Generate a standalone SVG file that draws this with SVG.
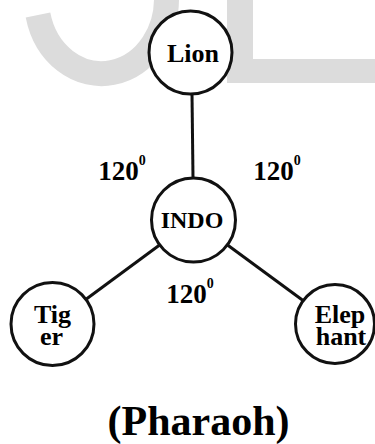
<svg xmlns="http://www.w3.org/2000/svg" width="375" height="444" viewBox="0 0 375 444">
<style>
.wm{fill:none;stroke:#dcdcdc;stroke-width:25}
.node circle{fill:#fff;stroke:#111;stroke-width:3}
.lbl{font-family:"Liberation Serif","Times New Roman",serif;font-weight:bold;fill:#000;text-anchor:middle}
.nt{font-size:26px}
.ang{font-size:27px}
.sup{font-size:14px}
.edge{stroke:#111;stroke-width:3}
</style>
<rect width="375" height="444" fill="#fff"/>
<g id="watermark">
<path class="wm" d="M38 15 A65 75 0 0 0 166 -10"/>
<path fill="#dcdcdc" d="M227 0 H253 V59 H375 V83 H227 Z"/>
</g>
<g id="connectors">
<line class="edge" x1="192" y1="94" x2="193" y2="178"/>
<line class="edge" x1="193.5" y1="220" x2="52.5" y2="324"/>
<line class="edge" x1="193.5" y1="220" x2="335" y2="324"/>
</g>
<g id="lion" class="node">
<circle cx="190.5" cy="52.5" r="41.5"/>
<text class="lbl nt" x="193" y="62">Lion</text>
</g>
<g id="indo" class="node">
<circle cx="193.5" cy="220" r="42"/>
<text class="lbl" style="font-size:24px" x="192" y="228">INDO</text>
</g>
<g id="tiger" class="node">
<circle cx="52.5" cy="324" r="41.5"/>
<text class="lbl nt"><tspan x="52.5" y="323">Tig</tspan><tspan x="51.5" y="345">er</tspan></text>
</g>
<g id="elephant" class="node">
<circle cx="335" cy="324" r="39.5"/>
<text class="lbl nt"><tspan x="340" y="323">Elep</tspan><tspan x="341" y="345">hant</tspan></text>
</g>
<g id="angles">
<text class="lbl ang" x="122" y="180">120<tspan class="sup" dy="-15">0</tspan></text>
<text class="lbl ang" x="277" y="180">120<tspan class="sup" dy="-15">0</tspan></text>
<text class="lbl ang" x="190" y="303">120<tspan class="sup" dy="-15">0</tspan></text>
</g>
<text id="title" class="lbl" style="font-size:42px" x="198.5" y="435">(Pharaoh)</text>
</svg>
